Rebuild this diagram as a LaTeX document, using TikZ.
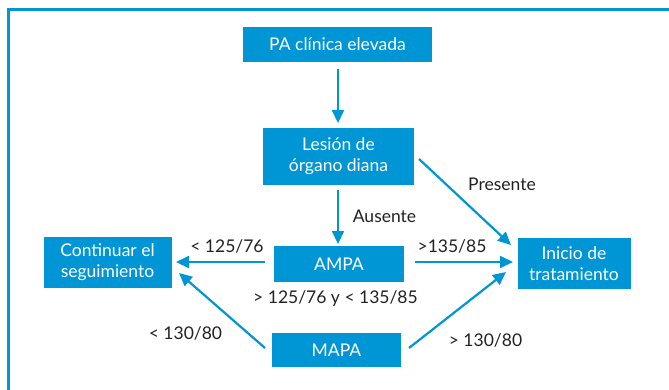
\documentclass[tikz,border=0pt]{standalone}
\usepackage{fontspec}
\setmainfont{Lato}
\usetikzlibrary{arrows.meta}
\definecolor{myblue}{HTML}{0096D6}
\definecolor{txtgray}{HTML}{222222}
\tikzset{
  box/.style={fill=myblue, text=white, inner sep=0pt, align=center,
    font=\fontsize{17.5}{21}\selectfont},
  conn/.style={draw=myblue, line width=2.2pt, -{Triangle[length=13pt,width=12pt]}},
  lbl/.style={text=txtgray, inner sep=0pt, font=\fontsize{17.5}{21}\selectfont},
  frameline/.style={draw=myblue, line width=3pt}
}
\begin{document}
\begin{tikzpicture}[x=1pt,y=-1pt]
\useasboundingbox (0,0) rectangle (669,390);
\draw[frameline] (669,9.5) -- (8.5,9.5) -- (8.5,390);

\node[box, minimum width=189pt, minimum height=35pt] (pa) at (337.5,44.5) {PA clínica elevada};
\node[box, minimum width=151pt, minimum height=57pt] (les) at (338.5,156.5) {Lesión de\\órgano diana};
\node[box, minimum width=130pt, minimum height=36pt] (ampa) at (339,264) {AMPA};
\node[box, minimum width=128pt, minimum height=51pt] (cont) at (107.5,262.5) {Continuar el\\seguimiento};
\node[box, minimum width=113pt, minimum height=51pt] (ini) at (574,263.5) {Inicio de\\tratamiento};
\node[box, minimum width=129pt, minimum height=34pt] (mapa) at (336.5,350) {MAPA};

\coordinate (a1s) at (338,69);
\coordinate (a1e) at (338,123);
\coordinate (a2s) at (338,190);
\coordinate (a2e) at (338,244);
\coordinate (a3s) at (419,159);
\coordinate (a3e) at (511,245);
\coordinate (a4s) at (265,262);
\coordinate (a4e) at (176,262);
\coordinate (a5s) at (415,262);
\coordinate (a5e) at (513,262);
\coordinate (a6s) at (265,348);
\coordinate (a6e) at (179,273);
\coordinate (a7s) at (409,348);
\coordinate (a7e) at (506,272);

\draw[conn] (a1s) -- (a1e);
\draw[conn] (a2s) -- (a2e);
\draw[conn] (a3s) -- (a3e);
\draw[conn] (a4s) -- (a4e);
\draw[conn] (a5s) -- (a5e);
\draw[conn] (a6s) -- (a6e);
\draw[conn] (a7s) -- (a7e);

\node[lbl] (lau) at (384.5,216) {Ausente};
\node[lbl] (lpr) at (502,184) {Presente};
\node[lbl] (l1) at (227,246) {< 125/76};
\node[lbl] (l2) at (452,246) {>135/85};
\node[lbl] (l3) at (335.5,298.5) {> 125/76 y < 135/85};
\node[lbl] (l4) at (185.5,333.5) {< 130/80};
\node[lbl] (l5) at (485.5,340) {> 130/80};
\end{tikzpicture}
\end{document}
